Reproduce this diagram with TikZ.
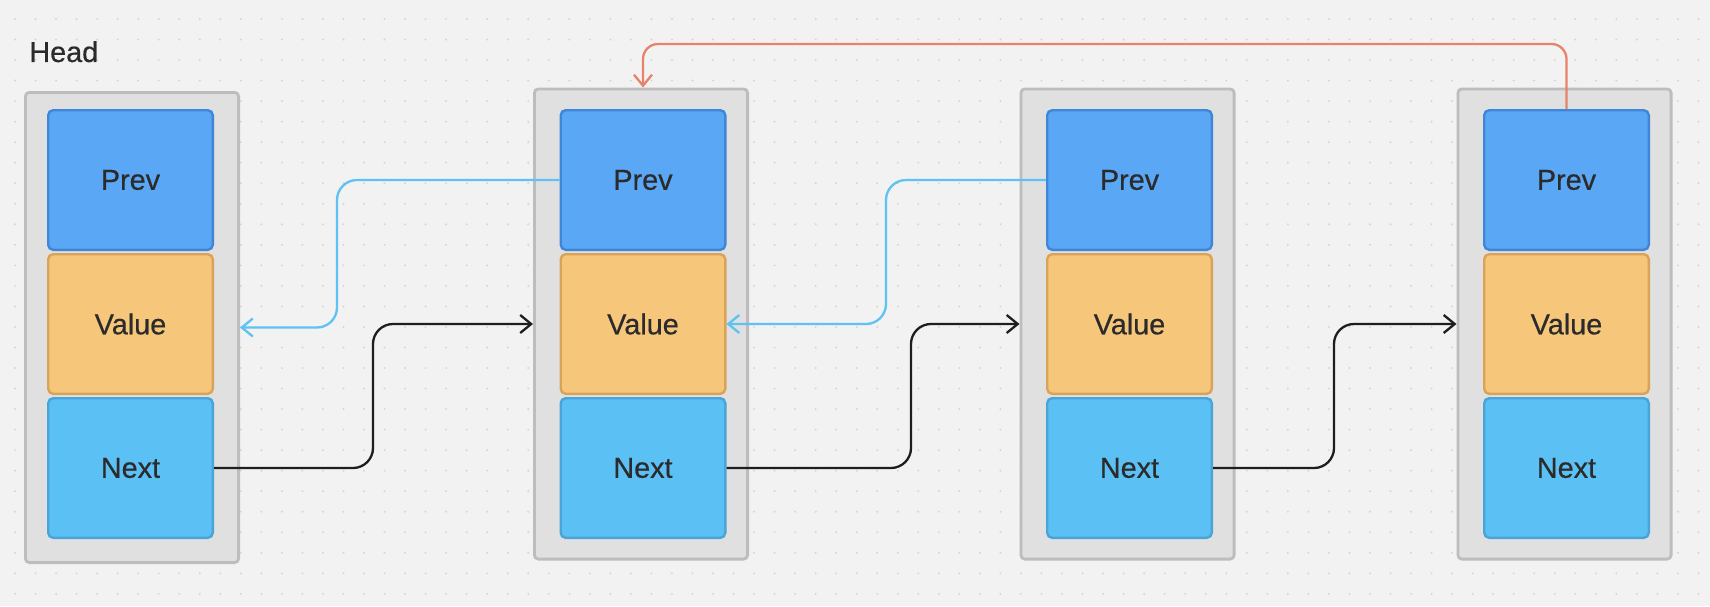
\documentclass[tikz,border=0pt]{standalone}
\usepackage{fontspec}
\setmainfont{Liberation Sans}
\newfontfamily\labelfont[FakeBold=0.5]{Liberation Sans}
\usetikzlibrary{arrows.meta}
\definecolor{bgc}{HTML}{F2F2F2}
\definecolor{dotc}{HTML}{D6D6D6}
\definecolor{contfill}{HTML}{E0E0E0}
\definecolor{contborder}{HTML}{BDBDBD}
\definecolor{prevfill}{HTML}{5AA7F5}
\definecolor{prevborder}{HTML}{3F86D8}
\definecolor{valfill}{HTML}{F6C77B}
\definecolor{valborder}{HTML}{D9A458}
\definecolor{nextfill}{HTML}{5BC0F3}
\definecolor{nextborder}{HTML}{49A4D8}
\definecolor{bluelink}{HTML}{5EC2F4}
\definecolor{blacklink}{HTML}{1E1E1E}
\definecolor{orangelink}{HTML}{E8826A}
\definecolor{txt}{HTML}{2B2B2B}
\begin{document}
\begin{tikzpicture}[x=0.5pt,y=-0.5pt,
  container/.style={draw=contborder, fill=contfill, line width=1.4pt, rounded corners=2pt,
    minimum width=106.6pt, minimum height=235.1pt, inner sep=0pt},
  cell/.style={line width=1.2pt, rounded corners=2.5pt, minimum width=82.3pt,
    minimum height=69.8pt, inner sep=0pt, text=txt, font=\labelfont\fontsize{14.4}{17}\selectfont},
  prevcell/.style={cell, fill=prevfill, draw=prevborder},
  valcell/.style={cell, fill=valfill, draw=valborder},
  nextcell/.style={cell, fill=nextfill, draw=nextborder},
  link/.style={line width=1.15pt, rounded corners=10pt, -{Straight Barb[length=5.5pt,width=9pt]}},
  bluel/.style={link, draw=bluelink},
  blackl/.style={link, draw=blacklink},
  orangel/.style={link, draw=orangelink, rounded corners=7.5pt},
  lbl/.style={text=txt, font=\labelfont\fontsize{14.4}{17}\selectfont, inner sep=0pt}
]
\useasboundingbox (0,0) rectangle (1710,606);
\fill[bgc] (0,0) rectangle (1710,606);
\foreach \i in {0,...,82}{
  \foreach \j in {0,...,28}{
    \fill[dotc] ({15+\i*20.53},{19+\j*20.53}) circle (0.55pt);
  }
}

\node[lbl, anchor=west] (head) at (29,51.7) {Head};

% containers
\node[container] (c1) at (132,327.5) {};
\node[container] (c2) at (641,324) {};
\node[container] (c3) at (1127.5,324) {};
\node[container] (c4) at (1564.5,324) {};

% cells
\foreach \k/\x in {1/130.5, 2/643, 3/1129.5, 4/1566.5}{
  \node[prevcell] (p\k) at (\x,180) {Prev};
  \node[valcell] (v\k) at (\x,324) {Value};
  \node[nextcell] (n\k) at (\x,468) {Next};
}

% bend coordinates
\coordinate (bb1) at (337,250);
\coordinate (bb2) at (886,250);
\coordinate (kb1) at (373,400);
\coordinate (kb2) at (911,400);
\coordinate (kb3) at (1334,400);
\coordinate (otop) at (1000,44);

% prev links (blue)
\draw[bluel] (p2.west) -- (p2.west -| bb1) -- (bb1 |- c1.east) -- (c1.east);
\draw[bluel] (p3.west) -- (p3.west -| bb2) -- (bb2 |- v2.east) -- (v2.east);

% next links (black)
\draw[blackl] (n1.east) -- (n1.east -| kb1) -- (kb1 |- c2.west) -- (c2.west);
\draw[blackl] (n2.east) -- (n2.east -| kb2) -- (kb2 |- c3.west) -- (c3.west);
\draw[blackl] (n3.east) -- (n3.east -| kb3) -- (kb3 |- c4.west) -- (c4.west);

% tail to head-of-list (orange)
\draw[orangel] (p4.north) -- (p4.north |- otop) -- (p2.north |- otop) -- (p2.north |- c2.north);
\end{tikzpicture}
\end{document}
